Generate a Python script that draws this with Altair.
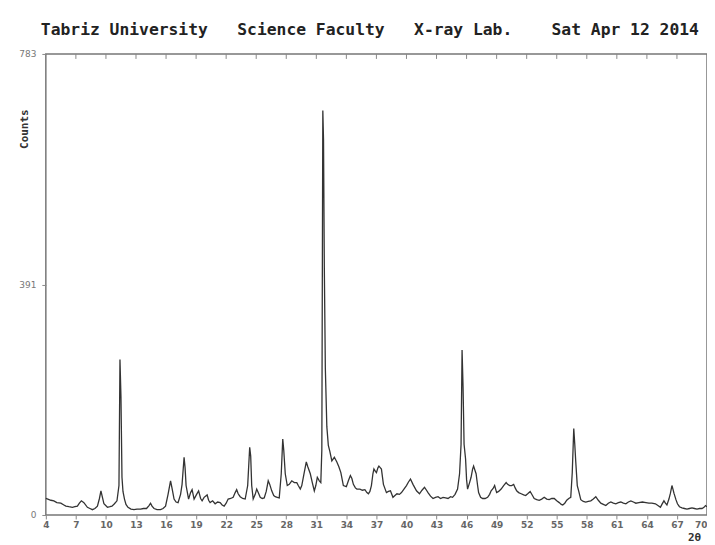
import altair as alt
import pandas as pd

two_theta = [
    4.0, 4.2, 4.5, 4.8, 5.1, 5.5, 5.8, 6.0, 6.3, 6.65, 6.9, 7.15, 7.35, 7.55, 7.8, 8.15, 8.4, 8.65, 8.9, 9.15,
    9.35, 9.5, 9.65, 9.8, 10.15, 10.4, 10.6, 10.85, 11.1, 11.3, 11.4, 11.5, 11.6, 11.7, 11.85, 12.0, 12.2, 12.5,
    12.8, 13.1, 13.45, 13.75, 14.05, 14.3, 14.45, 14.6, 14.8, 15.1, 15.45, 15.7, 15.95, 16.2, 16.45, 16.6, 16.8,
    17.0, 17.2, 17.45, 17.6, 17.8, 17.9, 18.0, 18.25, 18.45, 18.6, 18.8, 19.05, 19.25, 19.45, 19.6, 19.8, 20.1,
    20.25, 20.4, 20.65, 20.9, 21.15, 21.4, 21.6, 21.8, 22.0, 22.2, 22.45, 22.7, 22.9, 23.05, 23.2, 23.4, 23.65,
    23.9, 24.15, 24.35, 24.45, 24.55, 24.7, 24.9, 25.05, 25.2, 25.4, 25.6, 25.8, 26.0, 26.2, 26.35, 26.55, 26.75,
    26.9, 27.1, 27.3, 27.5, 27.65, 27.75, 27.9, 28.1, 28.3, 28.55, 28.8, 29.05, 29.2, 29.4, 29.55, 29.75, 30.0,
    30.15, 30.4, 30.6, 30.8, 30.95, 31.1, 31.3, 31.45, 31.55, 31.6, 31.65, 31.72, 31.8, 31.9, 32.05, 32.2, 32.35,
    32.55, 32.8, 33.05, 33.25, 33.45, 33.7, 34.0, 34.2, 34.4, 34.55, 34.7, 34.9, 35.05, 35.35, 35.6, 35.85, 36.05,
    36.2, 36.35, 36.5, 36.65, 36.75, 36.9, 37.0, 37.15, 37.25, 37.4, 37.5, 37.7, 38.0, 38.2, 38.4, 38.65, 38.85,
    39.05, 39.3, 39.5, 39.75, 40.0, 40.2, 40.4, 40.65, 41.0, 41.3, 41.55, 41.8, 42.0, 42.15, 42.4, 42.65, 42.9,
    43.15, 43.4, 43.65, 43.9, 44.15, 44.4, 44.6, 44.85, 45.1, 45.3, 45.45, 45.55, 45.65, 45.75, 45.9, 46.0, 46.1,
    46.3, 46.45, 46.6, 46.7, 46.85, 46.95, 47.1, 47.2, 47.4, 47.6, 47.85, 48.1, 48.3, 48.45, 48.65, 48.8, 49.0,
    49.2, 49.45, 49.7, 49.95, 50.1, 50.3, 50.5, 50.7, 50.85, 51.0, 51.2, 51.45, 51.7, 51.9, 52.1, 52.35, 52.55,
    52.75, 53.0, 53.25, 53.5, 53.75, 54.0, 54.25, 54.5, 54.75, 55.0, 55.25, 55.45, 55.6, 55.8, 56.0, 56.2, 56.4,
    56.55, 56.7, 56.8, 56.9, 57.05, 57.2, 57.4, 57.65, 57.9, 58.15, 58.4, 58.65, 58.9, 59.15, 59.4, 59.65, 59.9,
    60.15, 60.4, 60.65, 60.9, 61.15, 61.4, 61.65, 61.9, 62.15, 62.4, 62.65, 62.9, 63.2, 63.55, 63.9, 64.2, 64.5,
    64.85, 65.1, 65.35, 65.5, 65.7, 65.85, 66.0, 66.2, 66.35, 66.5, 66.6, 66.7, 66.9, 67.05, 67.25, 67.5, 67.75,
    68.0, 68.25, 68.5, 68.75, 69.0, 69.25, 69.5, 69.7, 69.85, 70.0,
]

counts = [
    28, 27, 25, 24, 21, 20, 17, 15, 14, 13, 14, 15, 20, 24, 21, 13, 11, 9, 11, 15,
    28, 41, 30, 19, 13, 14, 15, 19, 24, 50, 264, 200, 64, 40, 27, 18, 13, 10,
    9, 10, 10, 11, 11, 16, 20, 15, 11, 9, 9, 11, 15, 35, 58, 45, 27,
    22, 21, 35, 52, 98, 80, 50, 27, 38, 43, 27, 35, 41, 28, 24, 30, 34,
    25, 21, 24, 19, 22, 21, 17, 15, 20, 27, 28, 30, 38, 43, 36, 31, 28,
    27, 50, 115, 100, 50, 27, 35, 44, 38, 30, 28, 29, 40, 58, 52, 41, 33,
    31, 30, 29, 70, 129, 110, 70, 50, 52, 58, 55, 55, 50, 44, 50, 68, 90,
    82, 70, 55, 41, 50, 64, 58, 55, 110, 400, 687, 636, 420, 250, 150, 118, 108,
    92, 98, 90, 82, 72, 50, 48, 58, 67, 62, 52, 46, 44, 44, 42, 43, 38,
    36, 40, 50, 70, 78, 74, 72, 80, 83, 80, 78, 52, 38, 40, 41, 30, 33,
    36, 35, 38, 44, 50, 56, 61, 52, 41, 36, 42, 47, 42, 38, 32, 28, 30,
    31, 28, 30, 29, 28, 31, 30, 35, 44, 70, 120, 280, 216, 120, 95, 60, 44,
    55, 64, 78, 83, 75, 70, 50, 38, 30, 28, 28, 30, 35, 41, 45, 50, 38,
    40, 44, 50, 55, 52, 50, 50, 52, 46, 41, 38, 36, 34, 33, 36, 40, 34,
    28, 26, 25, 27, 30, 27, 26, 28, 28, 24, 21, 18, 17, 20, 25, 28, 30,
    72, 147, 120, 90, 50, 40, 26, 23, 22, 23, 24, 27, 31, 25, 20, 18, 16,
    20, 22, 20, 19, 21, 22, 20, 19, 22, 24, 22, 20, 21, 22, 21, 20, 20,
    19, 16, 13, 18, 24, 20, 17, 27, 37, 50, 44, 37, 26, 19, 14, 12, 11,
    10, 11, 12, 11, 10, 11, 11, 13, 16, 14,
]

x_tick_values = list(range(4, 71, 3))
top_tick_values = x_tick_values[1:-1]
y_tick_values = [0, 391, 783]

title_parts = ["Tabriz University", "Science Faculty", "X-ray Lab.", "Sat Apr 12 2014"]
gaps = [3, 3, 4]

NB = "\u00a0"
title_text = title_parts[0]
for g, p in zip(gaps, title_parts[1:]):
    title_text += NB * g + p

df = pd.DataFrame({"two_theta": two_theta, "counts": counts})
ticks_df = pd.DataFrame({"two_theta": top_tick_values})

x_scale = alt.Scale(domain=[4, 70], nice=False, zero=False)
y_scale = alt.Scale(domain=[0, 783], nice=False)

x_axis = alt.Axis(
    values=x_tick_values,
    title="2θ",
    domain=False,
    grid=False,
    tickSize=4,
    tickColor="#888888",
    labelPadding=2,
    labelFont="DejaVu Sans",
    labelFontSize=9,
    labelFontWeight="bold",
    labelColor="#666666",
    labelFlush=False,
    labelAlign=alt.expr("datum.value == 70 ? 'right' : 'center'"),
    titleFont="DejaVu Sans Mono",
    titleFontSize=11,
    titleFontWeight="bold",
    titleColor="#333333",
    titleX=651,
    titleY=23,
    titleBaseline="middle",
)

y_axis = alt.Axis(
    values=y_tick_values,
    title="Counts",
    domain=False,
    grid=False,
    tickSize=4,
    tickColor="#888888",
    labelPadding=6,
    labelFont="DejaVu Sans",
    labelFontSize=9,
    labelColor="#777777",
    labelFlush=False,
    titleFont="DejaVu Sans Mono",
    titleFontSize=11,
    titleFontWeight="bold",
    titleColor="#333333",
    titleX=-16,
    titleY=75,
)

line = alt.Chart(df).mark_line(color="#333333", strokeWidth=1.3).encode(
    x=alt.X("two_theta:Q", scale=x_scale, axis=x_axis),
    y=alt.Y("counts:Q", scale=y_scale, axis=y_axis),
)

top_ticks = alt.Chart(ticks_df).mark_rule(color="#888888", strokeWidth=1).encode(
    x=alt.X("two_theta:Q", scale=x_scale, axis=x_axis),
    y=alt.value(0),
    y2=alt.value(5),
)

chart = (
    alt.layer(line, top_ticks)
    .properties(
        width=664,
        height=463,
        autosize=alt.AutoSizeParams(type="none"),
        padding={"left": 38, "top": 45, "right": 0, "bottom": 29},
        title=alt.TitleParams(
            text=title_text,
            font="DejaVu Sans Mono",
            fontSize=16.4,
            fontWeight="bold",
            color="#222222",
            anchor="start",
            frame="group",
            dx=-5,
            offset=12,
        ),
        background="white",
    )
    .configure_view(stroke="#777777", strokeWidth=1.5)
)

chart.save("out.html", embed_options={"renderer": "svg", "actions": False})
